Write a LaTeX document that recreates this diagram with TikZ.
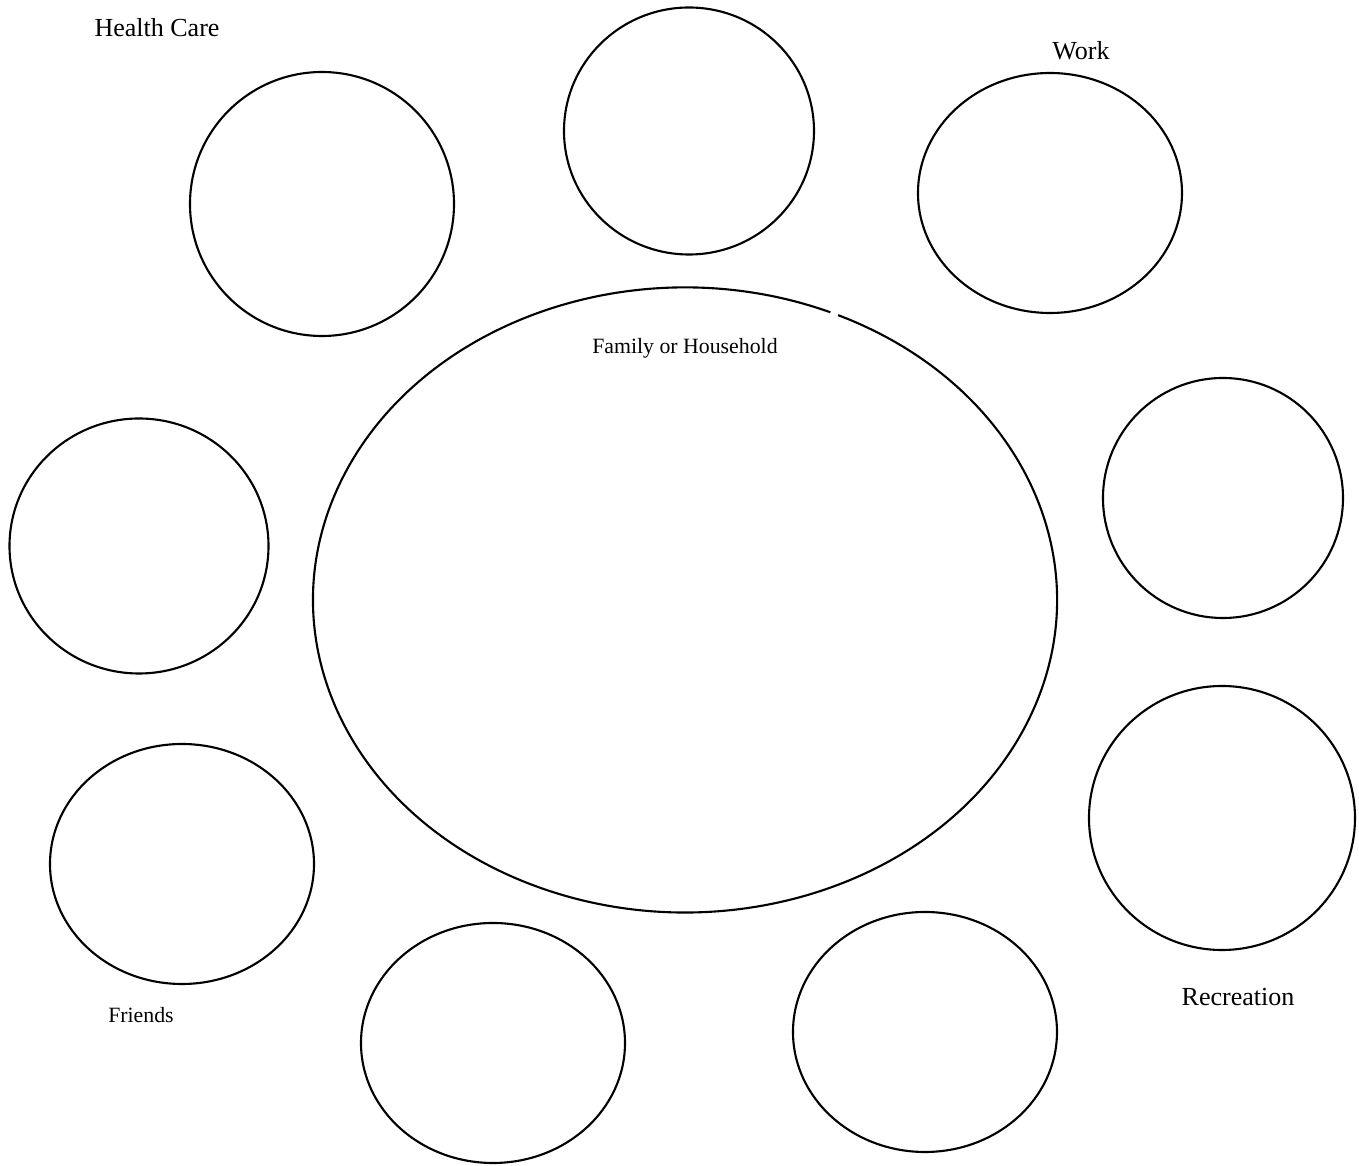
\documentclass[tikz,border=0pt]{standalone}
\usepackage{fontspec}
\setmainfont{Liberation Serif}
\begin{document}
\begin{tikzpicture}[x=0.01cm,y=0.01cm,ring/.style={draw=black,line width=0.6pt},
  biglabel/.style={font=\fontsize{7.4}{9}\selectfont,inner sep=0pt},
  smalllabel/.style={font=\fontsize{6.2}{8}\selectfont,inner sep=0pt}]
  \useasboundingbox (0,0) rectangle (1359,1166);
  % family or household (large, centre, small gap top right)
  \draw[ring] (830.4,853.7) arc[start angle=67,end angle=425.7,x radius=372,y radius=312.5];
  \node[smalllabel] (family) at (685,818) {Family or Household};
  % outer circles, clockwise from top left
  \draw[ring] (322,962) ellipse [x radius=132,y radius=132];
  \node[biglabel] (health) at (157,1138) {Health Care};
  \draw[ring] (689,1035) ellipse [x radius=125,y radius=123.5];
  \draw[ring] (1050,973) ellipse [x radius=132,y radius=120];
  \node[biglabel] (work) at (1081,1115) {Work};
  \draw[ring] (1223,668) ellipse [x radius=120,y radius=120];
  \draw[ring] (1222,348) ellipse [x radius=133,y radius=132];
  \node[biglabel] (recreation) at (1238,169) {Recreation};
  \draw[ring] (925,134) ellipse [x radius=132,y radius=120];
  \draw[ring] (493,123) ellipse [x radius=132,y radius=120];
  \draw[ring] (182,302) ellipse [x radius=132,y radius=120];
  \node[smalllabel] (friends) at (141,151) {Friends};
  \draw[ring] (139,620) ellipse [x radius=129.5,y radius=127.5];
\end{tikzpicture}
\end{document}
